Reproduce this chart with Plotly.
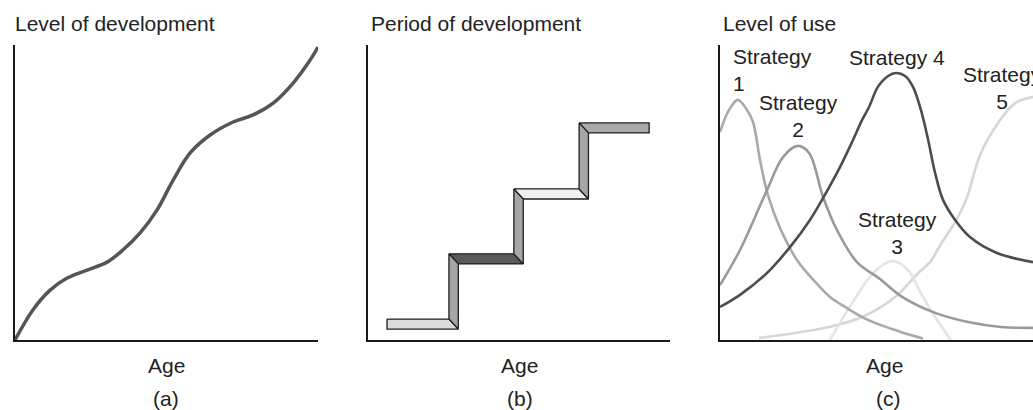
import plotly.graph_objects as go

# ---------------- data ----------------
# (a) continuous development
age_a = [0, 0.59, 1.16, 1.72, 2.38, 3.04, 3.56, 4.13, 4.69, 5.22, 5.78, 6.44, 7.20, 7.86, 8.52, 9.18, 9.74, 10.0]
level_a = [0, 1.02, 1.69, 2.10, 2.37, 2.64, 3.05, 3.63, 4.41, 5.42, 6.34, 6.95, 7.39, 7.63, 8.03, 8.71, 9.49, 9.93]

# (b) stage-like development
stage_bounds = [0.63, 2.68, 4.83, 6.99, 9.31]   # ages where each period starts / ends
stage_levels = [0.71, 2.92, 5.12, 7.36]         # level (top of tread) of each period
tread_colors = ["#dcdcdc", "#5a5a5a", "#f0f0f0", "#aaaaac"]
riser_color = "#a6a6a8"

# (c) overlapping waves
s1_age = [0, 0.30, 0.59, 0.89, 1.09, 1.32, 1.58, 1.98, 2.54, 3.14, 3.63, 4.13, 4.88, 5.97, 6.70]
s1_use = [7.05, 7.80, 8.14, 7.80, 7.39, 6.10, 4.92, 3.80, 2.71, 1.97, 1.46, 1.12, 0.68, 0.27, 0.05]
s2_age = [0, 0.66, 1.55, 2.08, 2.57, 2.94, 3.40, 3.86, 4.52, 5.28, 5.97, 7.10, 8.19, 9.27, 10.33]
s2_use = [1.86, 3.05, 5.08, 6.20, 6.58, 6.34, 4.85, 3.73, 2.64, 2.07, 1.49, 0.92, 0.61, 0.44, 0.41]
s3_age = [3.63, 4.36, 5.12, 5.71, 6.21, 6.63, 7.10, 7.62]
s3_use = [0, 1.25, 2.34, 2.68, 2.37, 1.59, 0.78, 0]
s4_age = [0, 0.66, 1.55, 2.31, 2.97, 3.40, 3.96, 4.39, 4.69, 4.92, 5.21, 5.55, 5.81, 6.11, 6.37, 6.63, 6.87, 7.10, 7.36, 7.76, 8.25, 9.14, 10.33]
s4_use = [1.12, 1.53, 2.27, 3.15, 4.07, 4.81, 5.86, 6.78, 7.46, 7.90, 8.58, 8.95, 9.05, 8.95, 8.58, 7.80, 6.78, 5.66, 4.75, 4.07, 3.49, 2.95, 2.64]
s5_age = [1.29, 2.48, 3.60, 4.69, 5.78, 6.54, 6.93, 7.29, 7.76, 8.12, 8.61, 9.18, 9.74, 10.33, 10.7]
s5_use = [0.07, 0.24, 0.44, 0.78, 1.46, 2.27, 2.64, 3.25, 4.00, 4.75, 6.34, 7.36, 8.03, 8.24, 8.30]

strategy_names = ["Strategy<br>1", "Strategy<br>2", "Strategy<br>3", "Strategy 4", "Strategy<br>5"]

# ---------------- figure ----------------
W, H = 1033, 410
FONT = "Liberation Sans, Arial, Helvetica, sans-serif"
fig = go.Figure()

# (a)
fig.add_trace(go.Scatter(x=age_a, y=level_a, mode="lines", line=dict(color="#555555", width=3.5, shape="spline"),
                         xaxis="x", yaxis="y", hoverinfo="skip"))

# (b) staircase built from the stage data
TH = 0.34   # tread thickness (y units)
RW = 0.31   # riser width (x units)
n = len(stage_levels)
for i in range(n):
    s, e, L = stage_bounds[i], stage_bounds[i + 1], stage_levels[i]
    left_bottom = s if i == 0 else s + RW
    if i == n - 1:
        xs = [s, e, e, left_bottom, s]
    else:
        xs = [s, e, e + RW, left_bottom, s]
    ys = [L, L, L - TH, L - TH, L]
    fig.add_trace(go.Scatter(x=xs, y=ys, mode="lines", fill="toself", fillcolor=tread_colors[i],
                             line=dict(color="#1e1e1e", width=1.3), xaxis="x2", yaxis="y2", hoverinfo="skip"))
for i in range(n - 1):
    e, L0, L1 = stage_bounds[i + 1], stage_levels[i], stage_levels[i + 1]
    xs = [e, e + RW, e + RW, e, e]
    ys = [L1, L1 - TH, L0 - TH, L0, L1]
    fig.add_trace(go.Scatter(x=xs, y=ys, mode="lines", fill="toself", fillcolor=riser_color,
                             line=dict(color="#1e1e1e", width=1.3), xaxis="x2", yaxis="y2", hoverinfo="skip"))

# (c)
series_c = [
    (s5_age, s5_use, "#d6d6d6"),
    (s3_age, s3_use, "#e4e4e4"),
    (s1_age, s1_use, "#a9a9a9"),
    (s2_age, s2_use, "#9a9a9a"),
    (s4_age, s4_use, "#4d4d4d"),
]
for xs, ys, c in series_c:
    fig.add_trace(go.Scatter(x=xs, y=ys, mode="lines", line=dict(color=c, width=2.6, shape="spline"),
                             xaxis="x3", yaxis="y3", hoverinfo="skip"))

def px_x(p):
    return p / W

def px_y(p):
    return 1 - p / H

axis_common = dict(showline=True, linecolor="#1a1a1a", linewidth=1.5, showgrid=False, zeroline=False,
                   showticklabels=False, ticks="", fixedrange=True)
ydom = [px_y(340), px_y(45)]
fig.update_layout(
    width=W, height=H, margin=dict(l=0, r=0, t=0, b=0),
    paper_bgcolor="white", plot_bgcolor="white", showlegend=False,
    xaxis=dict(domain=[px_x(15), px_x(318)], range=[0, 10], anchor="y", **axis_common),
    yaxis=dict(domain=ydom, range=[0, 10], anchor="x", **axis_common),
    xaxis2=dict(domain=[px_x(368), px_x(670)], range=[0, 10], anchor="y2", **axis_common),
    yaxis2=dict(domain=ydom, range=[0, 10], anchor="x2", **axis_common),
    xaxis3=dict(domain=[px_x(720), 1.0], range=[0, 10.33], anchor="y3", **axis_common),
    yaxis3=dict(domain=ydom, range=[0, 10], anchor="x3", **axis_common),
    font=dict(family=FONT, size=21, color="#222222"),
)

ann = []
def add_text(text, x, y, xanchor="center", align="center"):
    ann.append(dict(text=text, x=px_x(x), y=px_y(y), xref="paper", yref="paper", showarrow=False,
                    xanchor=xanchor, yanchor="middle", align=align,
                    font=dict(family=FONT, size=21, color="#222222")))

add_text("Level of development", 13, 23, xanchor="left", align="left")
add_text("Period of development", 369, 23, xanchor="left", align="left")
add_text("Level of use", 721, 23, xanchor="left", align="left")
for cx, lab in [(166, "(a)"), (520, "(b)"), (888, "(c)")]:
    add_text(lab, cx, 398)
for cx in [166, 519, 884]:
    add_text("Age", cx, 365)

label_pos = [(731, 70.5, "left"), (798, 115.5, "center"), (897, 233.5, "center"), (897, 57, "center"), (1002, 88.5, "center")]
for name, (lx, ly, anc) in zip(strategy_names, label_pos):
    add_text(name, lx, ly, xanchor=anc, align=anc)

fig.update_layout(annotations=ann)
fig.write_html("out.html", config={"displayModeBar": False},
               post_script="document.body.style.margin='0';document.body.style.overflow='hidden';")
